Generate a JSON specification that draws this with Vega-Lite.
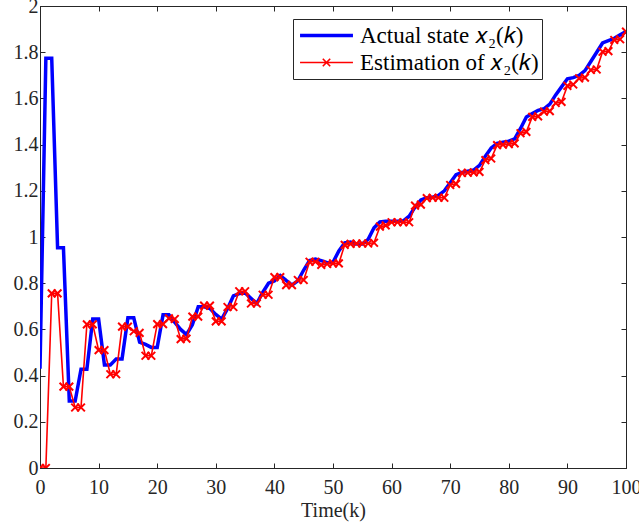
{
  "$schema": "https://vega.github.io/schema/vega-lite/v6.json",
  "width": 586,
  "height": 462,
  "autosize": {"type": "none"},
  "padding": {"left": 40, "top": 6, "right": 13, "bottom": 58},
  "background": "white",
  "config": {
    "view": {"stroke": "#262626", "strokeWidth": 1},
    "font": "Liberation Serif",
    "axis": {"labelFont": "Liberation Serif", "titleFont": "Liberation Serif", "labelColor": "#262626", "titleColor": "#262626", "domainColor": "#262626", "tickColor": "#262626", "grid": false, "titleFontWeight": "normal"}
  },
  "data": {"values": [
    {"k":0,"s":"Actual","v":0.43},{"k":1,"s":"Actual","v":1.774},{"k":2,"s":"Actual","v":1.774},{"k":3,"s":"Actual","v":0.954},{"k":4,"s":"Actual","v":0.954},
    {"k":5,"s":"Actual","v":0.29},{"k":6,"s":"Actual","v":0.29},{"k":7,"s":"Actual","v":0.428},{"k":8,"s":"Actual","v":0.428},{"k":9,"s":"Actual","v":0.645},
    {"k":10,"s":"Actual","v":0.645},{"k":11,"s":"Actual","v":0.446},{"k":12,"s":"Actual","v":0.446},{"k":13,"s":"Actual","v":0.472},{"k":14,"s":"Actual","v":0.472},
    {"k":15,"s":"Actual","v":0.65},{"k":16,"s":"Actual","v":0.65},{"k":17,"s":"Actual","v":0.545},{"k":18,"s":"Actual","v":0.535},{"k":19,"s":"Actual","v":0.522},
    {"k":20,"s":"Actual","v":0.522},{"k":21,"s":"Actual","v":0.663},{"k":22,"s":"Actual","v":0.663},{"k":23,"s":"Actual","v":0.63},{"k":24,"s":"Actual","v":0.6},
    {"k":25,"s":"Actual","v":0.578},{"k":26,"s":"Actual","v":0.62},{"k":27,"s":"Actual","v":0.698},{"k":28,"s":"Actual","v":0.698},{"k":29,"s":"Actual","v":0.69},
    {"k":30,"s":"Actual","v":0.665},{"k":31,"s":"Actual","v":0.645},{"k":32,"s":"Actual","v":0.69},{"k":33,"s":"Actual","v":0.745},{"k":34,"s":"Actual","v":0.755},
    {"k":35,"s":"Actual","v":0.758},{"k":36,"s":"Actual","v":0.735},{"k":37,"s":"Actual","v":0.712},{"k":38,"s":"Actual","v":0.76},{"k":39,"s":"Actual","v":0.8},
    {"k":40,"s":"Actual","v":0.81},{"k":41,"s":"Actual","v":0.833},{"k":42,"s":"Actual","v":0.812},{"k":43,"s":"Actual","v":0.792},{"k":44,"s":"Actual","v":0.81},
    {"k":45,"s":"Actual","v":0.857},{"k":46,"s":"Actual","v":0.898},{"k":47,"s":"Actual","v":0.905},{"k":48,"s":"Actual","v":0.898},{"k":49,"s":"Actual","v":0.889},
    {"k":50,"s":"Actual","v":0.89},{"k":51,"s":"Actual","v":0.94},{"k":52,"s":"Actual","v":0.975},{"k":53,"s":"Actual","v":0.978},{"k":54,"s":"Actual","v":0.97},
    {"k":55,"s":"Actual","v":0.97},{"k":56,"s":"Actual","v":0.99},{"k":57,"s":"Actual","v":1.04},{"k":58,"s":"Actual","v":1.065},{"k":59,"s":"Actual","v":1.068},
    {"k":60,"s":"Actual","v":1.068},{"k":61,"s":"Actual","v":1.068},{"k":62,"s":"Actual","v":1.07},{"k":63,"s":"Actual","v":1.09},{"k":64,"s":"Actual","v":1.13},
    {"k":65,"s":"Actual","v":1.16},{"k":66,"s":"Actual","v":1.17},{"k":67,"s":"Actual","v":1.172},{"k":68,"s":"Actual","v":1.18},{"k":69,"s":"Actual","v":1.2},
    {"k":70,"s":"Actual","v":1.235},{"k":71,"s":"Actual","v":1.27},{"k":72,"s":"Actual","v":1.28},{"k":73,"s":"Actual","v":1.285},{"k":74,"s":"Actual","v":1.29},
    {"k":75,"s":"Actual","v":1.31},{"k":76,"s":"Actual","v":1.35},{"k":77,"s":"Actual","v":1.385},{"k":78,"s":"Actual","v":1.405},{"k":79,"s":"Actual","v":1.41},
    {"k":80,"s":"Actual","v":1.415},{"k":81,"s":"Actual","v":1.425},{"k":82,"s":"Actual","v":1.47},{"k":83,"s":"Actual","v":1.52},{"k":84,"s":"Actual","v":1.535},
    {"k":85,"s":"Actual","v":1.548},{"k":86,"s":"Actual","v":1.555},{"k":87,"s":"Actual","v":1.575},{"k":88,"s":"Actual","v":1.615},{"k":89,"s":"Actual","v":1.65},
    {"k":90,"s":"Actual","v":1.685},{"k":91,"s":"Actual","v":1.69},{"k":92,"s":"Actual","v":1.7},{"k":93,"s":"Actual","v":1.72},{"k":94,"s":"Actual","v":1.76},
    {"k":95,"s":"Actual","v":1.8},{"k":96,"s":"Actual","v":1.84},{"k":97,"s":"Actual","v":1.85},{"k":98,"s":"Actual","v":1.86},{"k":99,"s":"Actual","v":1.875},
    {"k":100,"s":"Actual","v":1.889},
    {"k":0,"s":"Estimation","v":0},{"k":1,"s":"Estimation","v":0},{"k":2,"s":"Estimation","v":0.756},{"k":3,"s":"Estimation","v":0.756},{"k":4,"s":"Estimation","v":0.352},
    {"k":5,"s":"Estimation","v":0.352},{"k":6,"s":"Estimation","v":0.262},{"k":7,"s":"Estimation","v":0.262},{"k":8,"s":"Estimation","v":0.622},{"k":9,"s":"Estimation","v":0.622},
    {"k":10,"s":"Estimation","v":0.51},{"k":11,"s":"Estimation","v":0.51},{"k":12,"s":"Estimation","v":0.406},{"k":13,"s":"Estimation","v":0.406},{"k":14,"s":"Estimation","v":0.612},
    {"k":15,"s":"Estimation","v":0.612},{"k":16,"s":"Estimation","v":0.592},{"k":17,"s":"Estimation","v":0.585},{"k":18,"s":"Estimation","v":0.486},{"k":19,"s":"Estimation","v":0.486},
    {"k":20,"s":"Estimation","v":0.623},{"k":21,"s":"Estimation","v":0.623},{"k":22,"s":"Estimation","v":0.648},{"k":23,"s":"Estimation","v":0.645},{"k":24,"s":"Estimation","v":0.558},
    {"k":25,"s":"Estimation","v":0.56},{"k":26,"s":"Estimation","v":0.655},{"k":27,"s":"Estimation","v":0.655},{"k":28,"s":"Estimation","v":0.703},{"k":29,"s":"Estimation","v":0.703},
    {"k":30,"s":"Estimation","v":0.635},{"k":31,"s":"Estimation","v":0.635},{"k":32,"s":"Estimation","v":0.697},{"k":33,"s":"Estimation","v":0.697},{"k":34,"s":"Estimation","v":0.765},
    {"k":35,"s":"Estimation","v":0.765},{"k":36,"s":"Estimation","v":0.712},{"k":37,"s":"Estimation","v":0.712},{"k":38,"s":"Estimation","v":0.75},{"k":39,"s":"Estimation","v":0.75},
    {"k":40,"s":"Estimation","v":0.826},{"k":41,"s":"Estimation","v":0.826},{"k":42,"s":"Estimation","v":0.792},{"k":43,"s":"Estimation","v":0.792},{"k":44,"s":"Estimation","v":0.814},
    {"k":45,"s":"Estimation","v":0.814},{"k":46,"s":"Estimation","v":0.893},{"k":47,"s":"Estimation","v":0.893},{"k":48,"s":"Estimation","v":0.879},{"k":49,"s":"Estimation","v":0.883},
    {"k":50,"s":"Estimation","v":0.886},{"k":51,"s":"Estimation","v":0.886},{"k":52,"s":"Estimation","v":0.966},{"k":53,"s":"Estimation","v":0.97},{"k":54,"s":"Estimation","v":0.972},
    {"k":55,"s":"Estimation","v":0.972},{"k":56,"s":"Estimation","v":0.972},{"k":57,"s":"Estimation","v":0.975},{"k":58,"s":"Estimation","v":1.045},{"k":59,"s":"Estimation","v":1.05},
    {"k":60,"s":"Estimation","v":1.064},{"k":61,"s":"Estimation","v":1.064},{"k":62,"s":"Estimation","v":1.064},{"k":63,"s":"Estimation","v":1.064},{"k":64,"s":"Estimation","v":1.136},
    {"k":65,"s":"Estimation","v":1.14},{"k":66,"s":"Estimation","v":1.168},{"k":67,"s":"Estimation","v":1.17},{"k":68,"s":"Estimation","v":1.17},{"k":69,"s":"Estimation","v":1.17},
    {"k":70,"s":"Estimation","v":1.225},{"k":71,"s":"Estimation","v":1.23},{"k":72,"s":"Estimation","v":1.277},{"k":73,"s":"Estimation","v":1.278},{"k":74,"s":"Estimation","v":1.28},
    {"k":75,"s":"Estimation","v":1.282},{"k":76,"s":"Estimation","v":1.333},{"k":77,"s":"Estimation","v":1.34},{"k":78,"s":"Estimation","v":1.398},{"k":79,"s":"Estimation","v":1.4},
    {"k":80,"s":"Estimation","v":1.402},{"k":81,"s":"Estimation","v":1.405},{"k":82,"s":"Estimation","v":1.449},{"k":83,"s":"Estimation","v":1.455},{"k":84,"s":"Estimation","v":1.52},
    {"k":85,"s":"Estimation","v":1.522},{"k":86,"s":"Estimation","v":1.543},{"k":87,"s":"Estimation","v":1.545},{"k":88,"s":"Estimation","v":1.58},{"k":89,"s":"Estimation","v":1.585},
    {"k":90,"s":"Estimation","v":1.654},{"k":91,"s":"Estimation","v":1.66},{"k":92,"s":"Estimation","v":1.687},{"k":93,"s":"Estimation","v":1.69},{"k":94,"s":"Estimation","v":1.723},
    {"k":95,"s":"Estimation","v":1.725},{"k":96,"s":"Estimation","v":1.802},{"k":97,"s":"Estimation","v":1.805},{"k":98,"s":"Estimation","v":1.853},{"k":99,"s":"Estimation","v":1.856},
    {"k":100,"s":"Estimation","v":1.889}
  ]},
  "layer": [
    {
      "mark": {"type": "line", "strokeJoin": "miter", "clip": true},
      "encoding": {
        "x": {"field": "k", "type": "quantitative", "scale": {"domain": [0, 100], "nice": false, "zero": false},
              "axis": {"orient": "bottom", "title": "Time(k)", "values": [0,10,20,30,40,50,60,70,80,90,100], "tickSize": -5, "labelPadding": 14, "labelFontSize": 20, "titleFontSize": 20, "titlePadding": 3, "labelFlush": false}},
        "y": {"field": "v", "type": "quantitative", "scale": {"domain": [0, 2], "nice": false},
              "axis": {"orient": "left", "title": null, "values": [0,0.2,0.4,0.6,0.8,1,1.2,1.4,1.6,1.8,2], "format": "~g", "tickSize": -5, "labelPadding": 7, "labelFontSize": 20, "labelFlush": false}},
        "color": {"field": "s", "type": "nominal", "scale": {"domain": ["Actual", "Estimation"], "range": ["#0000FF", "#FF0000"]},
          "legend": {
            "orient": "none", "legendX": 253, "legendY": 13,
            "title": null,
            "labelExpr": "datum.index === 0 ? 'Actual state 𝑥₂(𝑘)' : 'Estimation of 𝑥₂(𝑘)'",
            "labelFont": "Liberation Serif", "labelFontSize": 23, "labelColor": "#000000", "labelLimit": 400,
            "symbolSize": 2800, "clipHeight": 27, "symbolOffset": 2, "labelOffset": 5,
            "fillColor": "white", "strokeColor": "#262626", "padding": 3, "rowPadding": 0,
            "encode": {"symbols": {"update": {
              "shape": {"signal": "datum.index === 0 ? 'M-1,0H1' : 'M-1,0H1M-0.14,-0.14L0.14,0.14M-0.14,0.14L0.14,-0.14'"},
              "strokeWidth": {"signal": "datum.index === 0 ? 3.5 : 1.8"},
              "fill": {"value": "transparent"}
            }}}
          }},
        "strokeWidth": {"field": "s", "type": "nominal", "scale": {"domain": ["Actual", "Estimation"], "range": [3.5, 1.6]}, "legend": null}
      }
    },
    {
      "transform": [{"filter": "datum.s === 'Estimation'"}],
      "mark": {"type": "point", "shape": "M-1,-1L1,1M-1,1L1,-1", "filled": false, "color": "#FF0000", "strokeWidth": 2, "size": 60, "opacity": 1, "clip": true},
      "encoding": {
        "x": {"field": "k", "type": "quantitative", "axis": {"orient": "top", "labels": false, "title": null, "values": [0,10,20,30,40,50,60,70,80,90,100], "tickSize": -5}},
        "y": {"field": "v", "type": "quantitative", "axis": {"orient": "right", "labels": false, "title": null, "values": [0,0.2,0.4,0.6,0.8,1,1.2,1.4,1.6,1.8,2], "tickSize": -5}}
      }
    }
  ],
  "resolve": {"axis": {"x": "independent", "y": "independent"}}
}
